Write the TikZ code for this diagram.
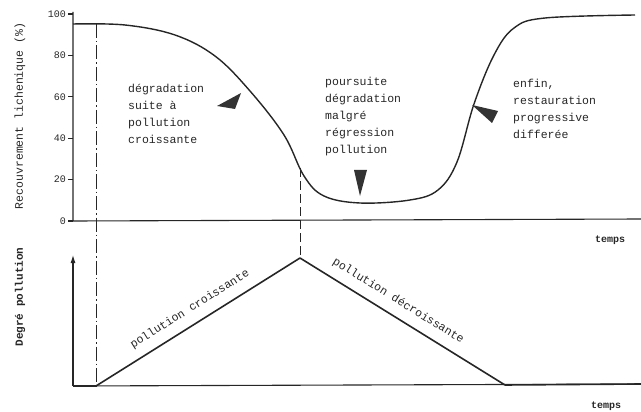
\documentclass[tikz,border=0pt]{standalone}
\usepackage{fontspec}
\setmonofont{Liberation Mono}
\usetikzlibrary{arrows.meta}

\begin{document}
\begin{tikzpicture}[x=1pt,y=-1pt,
    lbl/.style={font=\ttfamily\fontsize{11.5}{17}\selectfont, align=left, inner sep=0pt, text=black!85},
    ticklbl/.style={font=\ttfamily\fontsize{10}{12}\selectfont, inner sep=0pt, anchor=east, text=black!85},
    tinytxt/.style={font=\ttfamily\bfseries\fontsize{10}{12}\selectfont, inner sep=0pt, text=black!85},
    axis/.style={line width=1.1pt, draw=black!85},
    curve/.style={line width=1.4pt, draw=black!85, line join=round},
    wedge/.style={fill=black!80}]

    \useasboundingbox (0,0) rectangle (641,412);

    % Define the upper axes
    \coordinate (O) at (73,221);
    \coordinate (Ytop) at (73,12);
    \coordinate (Xend) at (641,219);
    \draw[axis] (Ytop) -- (O) -- (Xend);

    % Ticks and values of the upper axis
    \foreach \v in {0,20,...,100} {
        \draw[axis] (68,{221-2.07*\v}) -- (73,{221-2.07*\v});
        \node[ticklbl] (t\v) at (66,{221-2.07*\v}) {\v};
    }

    % Axis labels
    \node[lbl, rotate=90] (ylabA) at (20,116) {Recouvrement lichenique (\%)};
    \node[tinytxt, rotate=90, font=\ttfamily\bfseries\fontsize{11}{12}\selectfont] (ylabB) at (20,297) {Degré pollution};
    \node[tinytxt] (tempsA) at (610,240) {temps};
    \node[tinytxt] (tempsB) at (606,406) {temps};

    % The lichen cover curve
    \draw[curve] plot[smooth, tension=0.6] coordinates {
        (73,24) (125,25) (175,35) (215,56) (250,91) (284,135)
        (304,176) (324,196) (360,203) (410,200) (438,190)
        (457,162) (474,104) (494,55) (514,28) (545,18) (635,15)};

    % Vertical guide lines
    \coordinate (G1) at (96,24);
    \coordinate (G2) at (96,388);
    \coordinate (G3) at (300,168);
    \coordinate (Peak) at (300,258);
    \draw[line width=0.9pt, black!85, dash pattern=on 14pt off 3pt on 1.5pt off 3pt] (G1) -- (G2);
    \draw[line width=0.9pt, black!85, dash pattern=on 9pt off 4pt] (G3) -- (Peak);

    % Text blocks
    \node[lbl, anchor=west] (deg) at (128,114) {dégradation\\suite à\\pollution\\croissante};
    \node[lbl, anchor=west] (pours) at (325,117) {poursuite\\dégradation\\malgré\\régression\\pollution};
    \node[lbl, anchor=west] (restau) at (513,109) {enfin,\\restauration\\progressive\\differée};

    % Wedges pointing at the curve
    \fill[wedge] (217,106) -- (241,93) -- (235,109) -- cycle;
    \fill[wedge] (472,105) -- (498,111) -- (492,123) -- cycle;
    \fill[wedge] (360,196) -- (354,170) -- (367,170) -- cycle;

    % Lower axes
    \coordinate (L0) at (73,386);
    \coordinate (Ltop) at (73,255);
    \coordinate (Lend) at (641,384);
    \draw[axis, -{Latex[length=8pt,width=5pt]}] (L0) -- (Ltop);
    \draw[axis] (L0) -- (Lend);

    % Pollution degree
    \coordinate (P1) at (96,386);
    \coordinate (P3) at (505,385);
    \draw[curve, line width=1.6pt] (L0) -- (P1)
        -- node[lbl, sloped, pos=0.5, above=9pt] (croiss) {pollution croissante} (Peak)
        -- node[lbl, sloped, pos=0.44, above=9pt] (decroiss) {pollution décroissante} (P3)
        -- (Lend);

\end{tikzpicture}
\end{document}
